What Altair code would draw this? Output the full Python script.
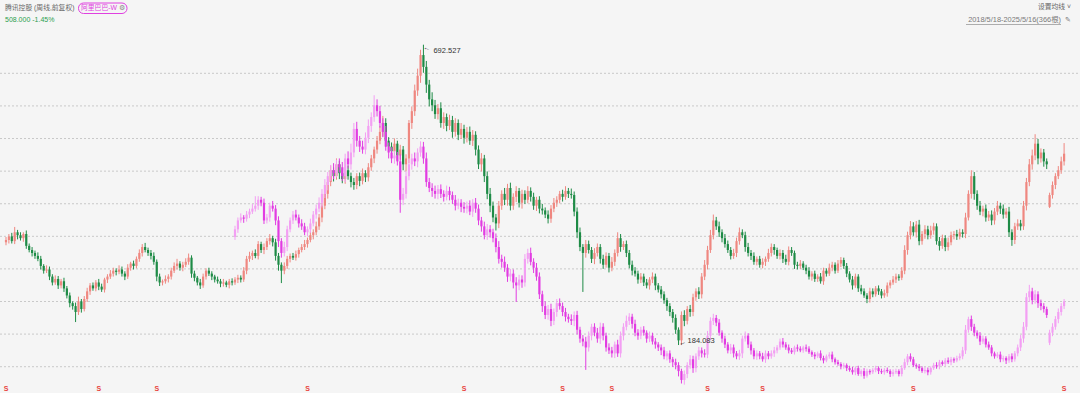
import altair as alt
import pandas as pd

# ---------------- data (weekly candles, forward-adjusted price units) ----------------
t_close = [
    362, 368, 360, 375, 370, 365, 372, 352, 345, 340,
    335, 330, 318, 310, 312, 300, 290, 296, 285, 292,
    280, 268, 255, 250, 240, 258, 245, 262, 275, 285,
    280, 290, 283, 278, 295, 300, 305, 310, 308, 312,
    305, 300, 315, 322, 318, 330, 340, 350, 345, 340,
    335, 325, 300, 290, 292, 296, 300, 310, 318, 322,
    315, 320, 325, 332, 305, 298, 290, 285, 300, 310,
    305, 300, 295, 292, 288, 290, 286, 292, 290, 295,
    298, 295, 310, 330, 335, 340, 335, 355, 345, 350,
    360, 365, 358, 335, 320, 310, 318, 330, 335, 332,
    338, 345, 350, 355, 362, 370, 375, 385, 400, 420,
    440, 460, 480, 470, 490, 475, 465, 480, 470, 460,
    455, 470, 462, 475, 468, 485, 500, 515, 530, 545,
    560, 530, 520, 512, 525, 505, 515, 490, 500, 560,
    580, 615, 640, 675, 655, 625, 600, 590, 575, 585,
    560, 570, 555, 565, 545, 560, 540, 550, 535, 545,
    530, 540, 515, 490, 500, 470, 440, 420, 400, 390,
    420, 440, 430, 450, 420, 435, 445, 425, 440, 430,
    445, 435, 420, 430, 415, 412, 405, 398, 415, 425,
    430, 440, 435, 445, 440, 438, 410, 375, 350, 340,
    355, 345, 330, 340, 350, 330, 320, 335, 315, 325,
    340, 365, 350, 355, 340, 320, 310, 305, 295, 300,
    290, 285, 295, 300, 285, 278, 270, 260, 250, 240,
    230, 210, 192, 235, 225, 245, 240, 265, 275, 270,
    300, 320, 345, 370, 395, 385, 375, 365, 355, 345,
    335, 340, 360, 375, 370, 350, 340, 335, 325, 330,
    320, 325, 330, 340, 350, 345, 335, 340, 330, 325,
    345, 340, 320, 318, 322, 315, 310, 300, 305, 296,
    300, 292, 310, 305, 315, 320, 310, 322, 328, 318,
    305, 295, 285, 300, 280, 275, 268, 262, 275, 270,
    280, 275, 268, 272, 285, 290, 295, 300, 298, 310,
    345, 370, 385, 375, 388, 360, 372, 380, 370, 378,
    385, 360, 352, 365, 350, 358, 370, 372, 368, 375,
    372, 400, 440, 470, 440, 420, 410, 415, 400, 405,
    395, 410, 420, 415, 405, 410, 375, 362, 385, 390,
    385, 420, 460, 490, 505, 525, 500, 510, 495, 490,
    438, 455, 470, 480, 495, 508,
]
t_hw = [
    5, 4, 6, 9, 4, 5, 3, 6, 4, 5,
    4, 6, 5, 3, 7, 5, 4, 6, 5, 4,
    6, 4, 5, 3, 6, 8, 4, 5, 6, 4,
    5, 4, 6, 5, 3, 4, 6, 5, 4, 7,
    5, 4, 6, 3, 5, 4, 6, 5, 7, 4,
    5, 6, 4, 5, 3, 6, 4, 5, 6, 8,
    4, 5, 6, 7, 4, 5, 3, 6, 5, 4,
    5, 4, 3, 5, 4, 6, 3, 4, 5, 4,
    5, 4, 6, 5, 7, 4, 6, 5, 4, 6,
    5, 7, 4, 6, 5, 4, 6, 5, 4, 5,
    6, 4, 5, 7, 4, 6, 5, 8, 6, 5,
    7, 6, 8, 5, 10, 6, 7, 5, 8, 6,
    7, 5, 6, 8, 5, 7, 6, 5, 8, 10,
    12, 8, 6, 7, 9, 5, 8, 6, 7, 5,
    8, 10, 12, 9, 17.527, 10, 8, 12, 9, 7,
    10, 8, 6, 9, 7, 8, 6, 10, 7, 8,
    9, 8, 6, 7, 9, 6, 8, 10, 7, 6,
    8, 6, 10, 7, 9, 6, 8, 5, 7, 6,
    8, 6, 7, 5, 6, 8, 5, 7, 6, 8,
    6, 5, 7, 8, 5, 9, 6, 7, 8, 5,
    7, 6, 5, 8, 6, 5, 7, 6, 5, 8,
    6, 10, 7, 5, 6, 5, 7, 6, 5, 6,
    5, 6, 4, 7, 5, 4, 6, 5, 4, 5,
    5, 6, 4, 6, 8, 5, 7, 6, 5, 7,
    6, 8, 7, 9, 10, 6, 8, 5, 7, 6,
    5, 7, 6, 8, 5, 6, 7, 5, 6, 4,
    5, 6, 4, 7, 6, 5, 4, 6, 5, 7,
    6, 5, 4, 5, 6, 4, 5, 6, 4, 5,
    4, 6, 5, 4, 7, 5, 4, 6, 5, 4,
    5, 4, 6, 5, 4, 6, 5, 4, 6, 5,
    4, 5, 4, 6, 5, 4, 6, 5, 4, 6,
    8, 6, 9, 7, 6, 8, 5, 7, 6, 8,
    6, 5, 7, 6, 5, 8, 6, 5, 7, 6,
    5, 8, 6, 10, 7, 6, 8, 5, 7, 6,
    7, 6, 8, 5, 7, 6, 8, 5, 6, 7,
    6, 8, 7, 9, 10, 16, 8, 7, 6, 5,
    4, 6, 5, 7, 8, 18,
]
t_lw = [
    5, 6, 4, 5, 7, 4, 6, 5, 4, 6,
    5, 4, 6, 5, 4, 6, 5, 4, 6, 5,
    6, 5, 7, 6, 17, 5, 6, 4, 5, 6,
    4, 5, 6, 4, 5, 6, 4, 5, 6, 4,
    5, 6, 4, 5, 6, 4, 5, 6, 4, 5,
    6, 5, 8, 6, 5, 4, 6, 5, 4, 6,
    5, 6, 4, 5, 7, 6, 5, 6, 4, 5,
    4, 6, 5, 4, 6, 5, 4, 6, 5, 4,
    6, 5, 4, 6, 5, 7, 4, 6, 5, 7,
    5, 6, 7, 8, 10, 21, 6, 5, 6, 4,
    5, 6, 4, 5, 6, 4, 7, 5, 6, 8,
    6, 8, 7, 9, 6, 10, 7, 8, 6, 9,
    8, 7, 9, 6, 8, 7, 6, 8, 7, 6,
    8, 10, 7, 9, 6, 8, 7, 10, 12, 8,
    10, 8, 9, 12, 10, 14, 12, 10, 8, 9,
    8, 10, 9, 7, 10, 8, 9, 7, 10, 8,
    7, 9, 10, 8, 12, 10, 9, 11, 8, 12,
    8, 7, 9, 10, 8, 7, 9, 8, 10, 7,
    6, 8, 7, 9, 8, 7, 6, 8, 7, 6,
    7, 6, 8, 5, 7, 6, 8, 10, 7, 66,
    8, 6, 7, 9, 6, 8, 7, 5, 8, 6,
    7, 6, 8, 5, 7, 6, 8, 5, 7, 6,
    6, 5, 7, 6, 8, 5, 7, 6, 8, 7,
    8, 7, 7.917, 8, 9, 6, 8, 7, 6, 8,
    7, 6, 8, 5, 7, 6, 8, 7, 6, 5,
    6, 5, 7, 6, 5, 8, 6, 7, 5, 6,
    5, 6, 7, 5, 6, 8, 5, 6, 7, 5,
    6, 5, 7, 6, 5, 4, 6, 5, 7, 5,
    5, 4, 6, 5, 4, 6, 5, 4, 6, 5,
    6, 5, 7, 4, 6, 5, 4, 7, 6, 5,
    4, 6, 5, 4, 6, 5, 4, 6, 5, 4,
    6, 8, 7, 6, 9, 7, 6, 8, 7, 6,
    7, 6, 8, 5, 7, 6, 5, 7, 6, 5,
    6, 7, 5, 8, 10, 7, 6, 8, 7, 6,
    8, 7, 6, 9, 7, 6, 8, 10, 7, 6,
    7, 6, 8, 7, 9, 8, 10, 7, 9, 8,
    2, 6, 7, 5, 6, 7,
]
t_first_open = 358
t_gap_open = {360: 418}

a_start = 79
a_close = [
    380, 395, 400, 398, 405, 410, 415, 420, 430, 425,
    395, 400, 420, 415, 395, 360, 340, 350, 380, 395,
    405, 400, 390, 385, 375, 380, 390, 405, 415, 425,
    440, 455, 470, 480, 475, 490, 485, 470, 500, 490,
    510, 550, 530, 520, 515, 535, 555, 570, 590, 580,
    560, 545, 520, 510, 500, 505, 495, 430, 440, 470,
    490, 500, 495, 510, 520, 500, 460, 450, 445, 440,
    448, 440, 435, 445, 438, 430, 420, 425, 418, 415,
    420, 410, 425, 415, 395, 385, 370, 380, 375, 365,
    350, 330, 325, 315, 300, 305, 290, 285, 295, 290,
    330, 340, 325, 315, 300, 270, 250, 235, 245, 225,
    240, 255, 250, 240, 232, 228, 225, 235, 210, 195,
    190, 180, 200, 215, 205, 195, 215, 200, 180, 175,
    170, 185, 170, 200, 215, 225, 232, 220, 205, 200,
    210, 205, 195, 200, 190, 185, 180, 175, 165, 170,
    160, 155, 150, 140, 125, 135, 150, 160, 145, 165,
    175, 170, 168, 200, 225, 230, 222, 205, 195, 185,
    175, 180, 170, 165, 170, 195, 200, 185, 175, 165,
    170, 165, 160, 170, 165, 170, 175, 180, 190, 185,
    180, 175, 172, 180, 178, 175, 180, 178, 172, 168,
    165, 170, 162, 158, 165, 168, 160, 155, 152, 148,
    150, 145, 142, 138, 145, 135, 140, 132, 140, 138,
    142, 145, 140, 138, 142, 140, 135, 138, 140, 135,
    145, 155, 165, 160, 150, 148, 145, 140, 142, 138,
    145, 150, 148, 155, 152, 158, 155, 160, 158, 162,
    165, 175, 210, 228, 215, 205, 200, 190, 195, 185,
    180, 170, 165, 168, 160, 162, 158, 165, 160, 170,
    180, 195, 215, 265, 275, 260, 270, 255, 250, 245,
    235, 205, 215, 228, 240, 250, 258,
]
a_hw = [
    6, 5, 7, 4, 6, 5, 8, 16, 6, 5,
    7, 6, 5, 8, 6, 7, 5, 9, 6, 5,
    6, 8, 5, 7, 6, 5, 8, 6, 7, 9,
    8, 10, 7, 9, 12, 8, 10, 9, 8, 12,
    15, 10, 12, 8, 10, 9, 11, 8, 17, 10,
    9, 8, 10, 7, 9, 8, 6, 12, 10, 8,
    9, 8, 10, 7, 9, 8, 10, 7, 8, 9,
    7, 8, 6, 9, 7, 6, 8, 7, 6, 8,
    7, 9, 6, 8, 7, 6, 8, 9, 7, 6,
    8, 10, 7, 9, 6, 8, 7, 9, 8, 7,
    8, 7, 9, 6, 8, 7, 6, 8, 7, 9,
    6, 7, 8, 6, 7, 5, 8, 6, 7, 5,
    6, 8, 7, 5, 6, 8, 7, 6, 5, 7,
    6, 5, 8, 7, 6, 9, 6, 5, 7, 6,
    5, 6, 4, 7, 5, 6, 4, 5, 6, 4,
    5, 4, 6, 5, 4, 6, 5, 7, 6, 5,
    6, 5, 7, 8, 6, 7, 5, 6, 4, 5,
    4, 6, 5, 4, 6, 5, 7, 4, 5, 4,
    5, 4, 6, 5, 4, 5, 6, 4, 5, 6,
    4, 5, 4, 3, 5, 4, 3, 5, 4, 3,
    4, 3, 5, 4, 3, 4, 5, 3, 4, 3,
    4, 3, 4, 5, 3, 4, 3, 5, 4, 3,
    3, 4, 3, 4, 3, 4, 3, 5, 4, 3,
    5, 6, 4, 5, 4, 3, 4, 3, 5, 4,
    3, 4, 5, 4, 3, 4, 5, 4, 3, 4,
    5, 6, 8, 4, 6, 5, 4, 6, 5, 4,
    5, 4, 3, 4, 5, 4, 3, 4, 5, 4,
    5, 6, 8, 7, 11, 6, 7, 5, 6, 5,
    4, 5, 6, 5, 6, 5, 4,
]
a_lw = [
    5, 6, 4, 7, 5, 6, 4, 5, 7, 6,
    6, 5, 7, 5, 8, 10, 8, 6, 7, 5,
    6, 5, 7, 6, 5, 7, 6, 5, 7, 6,
    8, 7, 9, 8, 10, 7, 9, 8, 10, 7,
    9, 8, 10, 9, 7, 8, 9, 10, 8, 9,
    8, 9, 7, 10, 8, 9, 7, 22, 9, 8,
    7, 9, 8, 10, 7, 9, 8, 7, 10, 8,
    9, 7, 8, 6, 9, 7, 8, 6, 9, 7,
    8, 6, 9, 7, 8, 9, 7, 8, 9, 7,
    9, 8, 10, 7, 9, 8, 10, 28, 8, 9,
    7, 8, 6, 9, 7, 8, 10, 7, 8, 9,
    7, 8, 6, 7, 8, 6, 7, 9, 8, 7,
    8, 38, 7, 8, 6, 7, 9, 8, 7, 6,
    7, 8, 6, 7, 8, 6, 7, 8, 6, 7,
    6, 5, 7, 6, 5, 7, 6, 8, 5, 7,
    6, 8, 7, 9, 6, 8, 7, 6, 8, 7,
    6, 7, 5, 6, 8, 7, 6, 5, 7, 6,
    5, 6, 7, 5, 6, 8, 5, 6, 7, 5,
    6, 5, 4, 6, 5, 4, 6, 5, 4, 5,
    4, 5, 3, 4, 5, 3, 4, 5, 3, 4,
    5, 3, 4, 5, 3, 4, 5, 4, 3, 5,
    4, 5, 3, 4, 5, 3, 4, 5, 3, 4,
    3, 4, 5, 3, 4, 3, 5, 4, 3, 4,
    4, 3, 5, 4, 3, 4, 5, 3, 4, 5,
    4, 3, 4, 5, 3, 4, 3, 5, 4, 3,
    4, 5, 6, 5, 7, 6, 5, 6, 4, 5,
    4, 5, 4, 3, 5, 4, 6, 4, 5, 4,
    5, 6, 7, 6, 8, 7, 6, 8, 7, 6,
    5, 4, 6, 5, 7, 6, 5,
]
a_first_open = 367
a_gap_open = {360: 188}

grid_levels = [644.1, 588.9, 533.7, 478.5, 423.3, 368.1, 313.0, 257.8, 202.6, 147.4]
event_weeks = [0, 32, 52, 104, 158, 192, 209, 242, 261, 313, 365]
peak = {"i": 144, "v": 692.527, "label": "692.527"}
trough = {"i": 232, "v": 184.083, "label": "184.083"}

# ---------------- build tables ----------------
def candles(closes, hw, lw, start, first_open, gaps, up_col, dn_col):
    rows = []
    for k, c in enumerate(closes):
        i = start + k
        o = first_open if k == 0 else gaps.get(i, closes[k - 1])
        rows.append({
            "i": i, "open": o, "close": c,
            "high": max(o, c) + hw[k], "low": min(o, c) - lw[k],
            "col": up_col if c >= o else dn_col,
        })
    return pd.DataFrame(rows)

tdf = candles(t_close, t_hw, t_lw, 0, t_first_open, t_gap_open, "#EF8780", "#1E8B46")
adf = candles(a_close, a_hw, a_lw, a_start, a_first_open, a_gap_open, "#F39FF3", "#E23CE2")

W, H = 1080, 393
xs = alt.Scale(domain=[-0.342, 368.76], nice=False, zero=False)
ys = alt.Scale(domain=[102.9, 768.2], nice=False, zero=False)
FONT = "Liberation Sans, Noto Sans CJK SC, sans-serif"

grid = alt.Chart(pd.DataFrame({"v": grid_levels})).mark_rule(
    color="#C9C9C9", strokeWidth=1, strokeDash=[2, 2]
).encode(y=alt.Y("v:Q", scale=ys, axis=None), x=alt.value(0), x2=alt.value(W))

def candle_layers(df):
    base = alt.Chart(df)
    wick = base.mark_rule(strokeWidth=1).encode(
        x=alt.X("i:Q", scale=xs, axis=None),
        y=alt.Y("low:Q", scale=ys, axis=None), y2="high:Q",
        color=alt.Color("col:N", scale=None),
    )
    body = base.mark_bar(size=2.2).encode(
        x=alt.X("i:Q", scale=xs, axis=None),
        y=alt.Y("open:Q", scale=ys, axis=None), y2="close:Q",
        color=alt.Color("col:N", scale=None),
    )
    return [wick, body]

ann_df = pd.DataFrame([peak, trough])
peak_df = pd.DataFrame([peak])
trough_df = pd.DataFrame([trough])

peak_text = alt.Chart(peak_df).mark_text(
    align="left", baseline="middle", dx=10, dy=6, fontSize=7.5, font=FONT, color="#333333"
).encode(x=alt.X("i:Q", scale=xs, axis=None), y=alt.Y("v:Q", scale=ys, axis=None), text="label:N")
peak_arrow = alt.Chart(peak_df).mark_text(
    align="left", baseline="middle", dx=1, dy=2, fontSize=7, font=FONT, color="#333333", angle=20
).encode(x=alt.X("i:Q", scale=xs, axis=None), y=alt.Y("v:Q", scale=ys, axis=None), text=alt.value("←"))
trough_text = alt.Chart(trough_df).mark_text(
    align="left", baseline="middle", dx=9, dy=-4, fontSize=7.5, font=FONT, color="#333333"
).encode(x=alt.X("i:Q", scale=xs, axis=None), y=alt.Y("v:Q", scale=ys, axis=None), text="label:N")
trough_arrow = alt.Chart(trough_df).mark_text(
    align="left", baseline="middle", dx=1, dy=-1, fontSize=7, font=FONT, color="#333333", angle=340
).encode(x=alt.X("i:Q", scale=xs, axis=None), y=alt.Y("v:Q", scale=ys, axis=None), text=alt.value("←"))

events = alt.Chart(pd.DataFrame({"i": event_weeks})).mark_text(
    fontSize=7, fontWeight="bold", font=FONT, color="#E8423C", baseline="middle"
).encode(x=alt.X("i:Q", scale=xs, axis=None), y=alt.value(389), text=alt.value("S"))

one = pd.DataFrame({"k": [0]})
def label(txt, x, y, color, size=7, align="left"):
    return alt.Chart(one).mark_text(
        align=align, baseline="middle", fontSize=size, font=FONT, color=color
    ).encode(x=alt.value(x), y=alt.value(y), text=alt.value(txt))

pill = alt.Chart(one).mark_rect(
    fill="#F5F5F5", stroke="#E040E0", strokeWidth=1, cornerRadius=5
).encode(x=alt.value(78.5), x2=alt.value(127), y=alt.value(3), y2=alt.value(13.5))
underline = alt.Chart(one).mark_rule(color="#9A9A9A", strokeWidth=0.8).encode(
    x=alt.value(966), x2=alt.value(1061), y=alt.value(24.5))

header = [
    label("腾讯控股 (周线,前复权)", 5, 8, "#666666", 6.8),
    pill,
    label("阿里巴巴-W", 81, 8.3, "#E040E0", 6.8),
    label("⚙", 119, 8.3, "#8A8A8A", 7),
    label("508.000  -1.45%", 5, 20, "#2E9E4E", 7),
    label("设置均线 ˅", 1071, 7, "#666666", 6.8, "right"),
    label("2018/5/18-2025/5/16(366根)", 1061, 20, "#7A7A7A", 7.4, "right"),
    underline,
    label("✎", 1065, 20, "#777777", 7),
]

chart = alt.layer(
    grid, *candle_layers(tdf), *candle_layers(adf),
    peak_arrow, peak_text, trough_arrow, trough_text, events, *header
).properties(
    width=W, height=H, padding=0, autosize=alt.AutoSizeParams(type="none"),
    background="#F5F5F5"
).configure_view(strokeWidth=0)

chart.save("out.html", embed_options={"renderer": "svg", "actions": False})
